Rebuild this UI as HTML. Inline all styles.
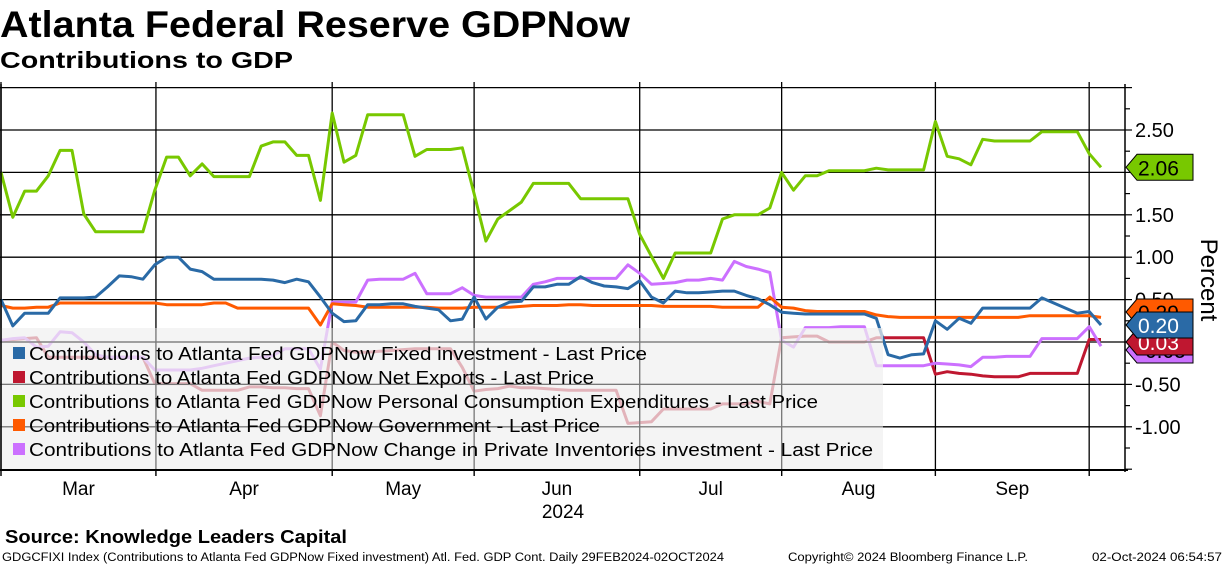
<!DOCTYPE html>
<html><head><meta charset="utf-8">
<style>
body{margin:0;background:#fff;width:1224px;height:566px;overflow:hidden;font-family:"Liberation Sans","DejaVu Sans",sans-serif;}
svg{display:block}
</style></head>
<body>
<svg id="chart" width="1224" height="566" viewBox="0 0 1224 566" xmlns="http://www.w3.org/2000/svg">
<text x="0" y="37" font-size="37" font-weight="bold" fill="#000" textLength="630" lengthAdjust="spacingAndGlyphs">Atlanta Federal Reserve GDPNow</text>
<text x="0" y="68" font-size="23" font-weight="bold" fill="#000" textLength="293" lengthAdjust="spacingAndGlyphs">Contributions to GDP</text>
<g id="grid"></g>
<g id="series"></g>
<g id="legend"></g>
<g id="axis"></g>
<g id="tags"></g>
<text transform="translate(1201,280) rotate(90)" text-anchor="middle" font-size="24" fill="#000">Percent</text>
<text x="5" y="543" font-size="18" font-weight="bold" fill="#000" textLength="342" lengthAdjust="spacingAndGlyphs">Source: Knowledge Leaders Capital</text>
<text x="2" y="561" font-size="11.5" fill="#000" textLength="722" lengthAdjust="spacingAndGlyphs">GDGCFIXI Index (Contributions to Atlanta Fed GDPNow Fixed investment) Atl. Fed. GDP Cont.  Daily 29FEB2024-02OCT2024</text>
<text x="788" y="561" font-size="11.5" fill="#000" textLength="240" lengthAdjust="spacingAndGlyphs">Copyright© 2024 Bloomberg Finance L.P.</text>
<text x="1092" y="561" font-size="11.5" fill="#000" textLength="130" lengthAdjust="spacingAndGlyphs">02-Oct-2024 06:54:57</text>
</svg>
<script>
const pce=[2.00,1.47,1.78,1.78,1.96,2.26,2.26,1.51,1.30,1.30,1.30,1.30,1.30,1.79,2.18,2.18,1.96,2.10,1.95,1.95,1.95,1.95,2.31,2.36,2.36,2.20,2.20,1.67,2.70,2.12,2.20,2.68,2.68,2.68,2.68,2.19,2.27,2.27,2.27,2.29,1.75,1.19,1.45,1.55,1.65,1.87,1.87,1.87,1.87,1.69,1.69,1.69,1.69,1.69,1.27,1.01,0.75,1.05,1.05,1.05,1.05,1.45,1.50,1.50,1.50,1.58,2.00,1.79,1.96,1.96,2.02,2.02,2.02,2.02,2.05,2.03,2.03,2.03,2.03,2.60,2.19,2.16,2.09,2.39,2.37,2.37,2.37,2.37,2.48,2.48,2.48,2.48,2.22,2.06];
const fixedInv=[0.50,0.19,0.34,0.34,0.34,0.52,0.52,0.52,0.53,0.65,0.78,0.77,0.74,0.91,1.00,1.00,0.86,0.83,0.74,0.74,0.74,0.74,0.74,0.73,0.70,0.74,0.71,0.53,0.34,0.24,0.25,0.44,0.44,0.45,0.45,0.42,0.40,0.38,0.25,0.27,0.53,0.27,0.41,0.47,0.48,0.65,0.65,0.68,0.68,0.77,0.70,0.66,0.65,0.63,0.72,0.53,0.46,0.60,0.58,0.58,0.59,0.60,0.60,0.55,0.51,0.44,0.35,0.34,0.33,0.33,0.33,0.33,0.33,0.33,0.28,-0.15,-0.19,-0.15,-0.14,0.25,0.15,0.28,0.22,0.40,0.40,0.40,0.40,0.40,0.52,0.46,0.40,0.34,0.36,0.20];
const govt=[0.43,0.40,0.40,0.41,0.41,0.46,0.46,0.46,0.46,0.46,0.46,0.46,0.46,0.46,0.44,0.44,0.44,0.44,0.46,0.46,0.40,0.40,0.40,0.40,0.40,0.40,0.40,0.20,0.45,0.44,0.43,0.41,0.41,0.41,0.41,0.41,0.41,0.40,0.40,0.40,0.41,0.41,0.41,0.41,0.42,0.43,0.43,0.43,0.44,0.44,0.43,0.43,0.43,0.43,0.43,0.43,0.42,0.42,0.42,0.42,0.42,0.41,0.41,0.41,0.41,0.53,0.41,0.40,0.37,0.36,0.36,0.36,0.36,0.36,0.32,0.30,0.29,0.29,0.29,0.29,0.29,0.29,0.29,0.29,0.29,0.29,0.29,0.31,0.31,0.31,0.31,0.31,0.31,0.29];
const inventories=[0.02,0.04,0.05,-0.06,-0.05,0.12,0.11,0.00,-0.15,-0.18,-0.18,-0.18,-0.18,-0.33,-0.33,-0.33,-0.33,-0.31,-0.28,-0.25,-0.22,-0.19,-0.18,-0.16,-0.08,-0.08,-0.08,-0.32,0.47,0.47,0.47,0.73,0.74,0.74,0.74,0.81,0.57,0.57,0.57,0.64,0.55,0.53,0.53,0.53,0.53,0.68,0.71,0.75,0.75,0.75,0.75,0.75,0.75,0.91,0.81,0.68,0.69,0.70,0.73,0.73,0.75,0.73,0.95,0.89,0.86,0.82,0.02,-0.06,0.17,0.17,0.17,0.18,0.18,0.18,-0.28,-0.28,-0.28,-0.28,-0.28,-0.25,-0.26,-0.27,-0.29,-0.18,-0.18,-0.17,-0.17,-0.17,0.04,0.04,0.04,0.04,0.18,-0.05];
const netExports=[0.02,0.03,0.04,0.05,-0.18,-0.18,-0.18,-0.18,-0.18,-0.18,-0.18,-0.18,-0.18,-0.49,-0.49,-0.49,-0.49,-0.57,-0.57,-0.57,-0.57,-0.53,-0.53,-0.54,-0.54,-0.55,-0.55,-0.87,0.00,-0.10,-0.12,-0.12,-0.11,-0.10,-0.09,-0.08,-0.08,-0.08,-0.08,-0.30,-0.58,-0.56,-0.55,-0.52,-0.54,-0.54,-0.55,-0.56,-0.57,-0.57,-0.57,-0.57,-0.57,-0.96,-0.95,-0.94,-0.79,-0.79,-0.79,-0.79,-0.79,-0.73,-0.73,-0.73,-0.70,-0.73,0.05,0.06,0.07,0.07,0.00,0.00,0.00,0.00,0.05,0.05,0.05,0.05,0.05,-0.38,-0.35,-0.37,-0.38,-0.40,-0.41,-0.41,-0.41,-0.37,-0.37,-0.37,-0.37,-0.37,0.03,0.03];
const monthLabels=["Mar","Apr","May","Jun","Jul","Aug","Sep"];
const monthStartObs=[0,13.1,28,40,54,66,79,92];
const yTicks=[2.5,1.5,1.0,0.5,-0.5,-1.0];
const yGrid=[3.0,2.5,2.0,1.5,1.0,0.5,0,-0.5,-1.0];
const lastValues=["2.06","0.29","0.20","0.03","-0.05"];

const NS="http://www.w3.org/2000/svg";
const X0=1, STEP=1100/93;
function xs(i){return X0+i*STEP;}
function ys(v){return 342-v*84.8;}
function mk(tag,attrs,parent){const e=document.createElementNS(NS,tag);for(const k in attrs)e.setAttribute(k,attrs[k]);parent.appendChild(e);return e;}
const grid=document.getElementById('grid'),ser=document.getElementById('series'),leg=document.getElementById('legend'),ax=document.getElementById('axis'),tags=document.getElementById('tags');

yGrid.forEach(v=>{const l=mk('line',{x1:0,x2:1125,y1:ys(v),y2:ys(v),stroke:'#000','stroke-width':1.3},grid);

});
monthStartObs.forEach((o,k)=>{const l=mk('line',{x1:xs(o),x2:xs(o),y1:82,y2:476,stroke:'#000','stroke-width':1.3},grid);

});

const series=[
 {d:netExports,c:'#bf1730',n:'net-exports-line'},
 {d:inventories,c:'#cc70ff',n:'inventories-line'},
 {d:govt,c:'#ff5a00',n:'government-line'},
 {d:fixedInv,c:'#2a6aa6',n:'fixed-investment-line'},
 {d:pce,c:'#78c800',n:'pce-line'}];
series.forEach(s=>{const p=mk('polyline',{points:s.d.map((v,i)=>xs(i).toFixed(1)+','+ys(v).toFixed(1)).join(' '),fill:'none',stroke:s.c,'stroke-width':3,'stroke-linejoin':'round'},ser);

});

const lb=mk('rect',{x:0,y:328,width:883,height:141,fill:'rgba(240,240,240,0.72)'},leg);


yGrid.forEach(v=>{if(ys(v)>328){const l=mk('line',{x1:0,x2:883,y1:ys(v),y2:ys(v),stroke:'#777','stroke-width':1.2},leg);

}});
monthStartObs.forEach(o=>{if(xs(o)<883){const l=mk('line',{x1:xs(o),x2:xs(o),y1:328,y2:469,stroke:'#777','stroke-width':1.2},leg);

}});
const legItems=[
 ['#2a6aa6','Contributions to Atlanta Fed GDPNow Fixed investment - Last Price',618],
 ['#bf1730','Contributions to Atlanta Fed GDPNow Net Exports - Last Price',565],
 ['#78c800','Contributions to Atlanta Fed GDPNow Personal Consumption Expenditures - Last Price',789],
 ['#ff5a00','Contributions to Atlanta Fed GDPNow Government - Last Price',571],
 ['#cc70ff','Contributions to Atlanta Fed GDPNow Change in Private Inventories investment - Last Price',844]];
legItems.forEach((it,k)=>{const cy=353+k*24;
 const sq=mk('rect',{x:13,y:cy-6,width:12,height:12,fill:it[0]},leg);
 
 
 const t=mk('text',{x:29,y:cy+7,'font-size':18,fill:'#000',textLength:it[2],lengthAdjust:'spacingAndGlyphs'},leg);
 t.textContent=it[1];
 
 });

let a=mk('line',{x1:0,x2:1128,y1:470,y2:470,stroke:'#000','stroke-width':2},ax);


a=mk('line',{x1:1125,x2:1125,y1:84,y2:472,stroke:'#000','stroke-width':1.5},ax);


a=mk('line',{x1:1,x2:1,y1:84,y2:470,stroke:'#000','stroke-width':1.5},ax);


for(let v=-1.5;v<=3.01;v+=0.25){const y=ys(v);const major=Math.abs(v*2-Math.round(v*2))<1e-6;
 const tk=mk('line',{x1:1125,x2:major?1132:1130,y1:y,y2:y,stroke:'#000','stroke-width':1.2},ax);
 
 }
yTicks.forEach(v=>{const t=mk('text',{x:1135,y:ys(v)+7,'font-size':20,fill:'#000'},ax);
 t.textContent=v.toFixed(2);
 
 });
monthLabels.forEach((m,k)=>{const cx=(xs(monthStartObs[k])+xs(monthStartObs[k+1]))/2;
 const t=mk('text',{x:cx,y:495,'font-size':19,'text-anchor':'middle',fill:'#000'},ax);
 t.textContent=m;
 
 });
monthStartObs.forEach(o=>{const tk=mk('line',{x1:xs(o),x2:xs(o),y1:470,y2:476,stroke:'#000','stroke-width':1.2},ax);
 
 });
let yr=mk('text',{x:563,y:518,'font-size':19,'text-anchor':'middle',fill:'#000'},ax);
yr.textContent='2024';



const tagDefs=[
 [inventories,'#cc70ff','#000',lastValues[4],350,'inventories-tag'],
 [govt,'#ff5a00','#000',lastValues[1],312,'government-tag'],
 [netExports,'#bf1730','#fff',lastValues[3],342,'net-exports-tag'],
 [fixedInv,'#2a6aa6','#fff',lastValues[2],325,'fixed-investment-tag'],
 [pce,'#78c800','#000',lastValues[0],ys(pce[pce.length-1]),'pce-tag']];
tagDefs.forEach(t=>{const cy=t[4];
 const g=mk('g',{},tags);
 
 
 mk('path',{d:`M1126 ${cy} L1137 ${cy-13} L1193 ${cy-13} L1193 ${cy+13} L1137 ${cy+13} Z`,fill:t[1],stroke:'#000','stroke-width':1},g);
 const tx=mk('text',{x:1138,y:cy+8,'font-size':21,fill:t[2]},g);
 tx.textContent=t[3];});
</script>
</body></html>
